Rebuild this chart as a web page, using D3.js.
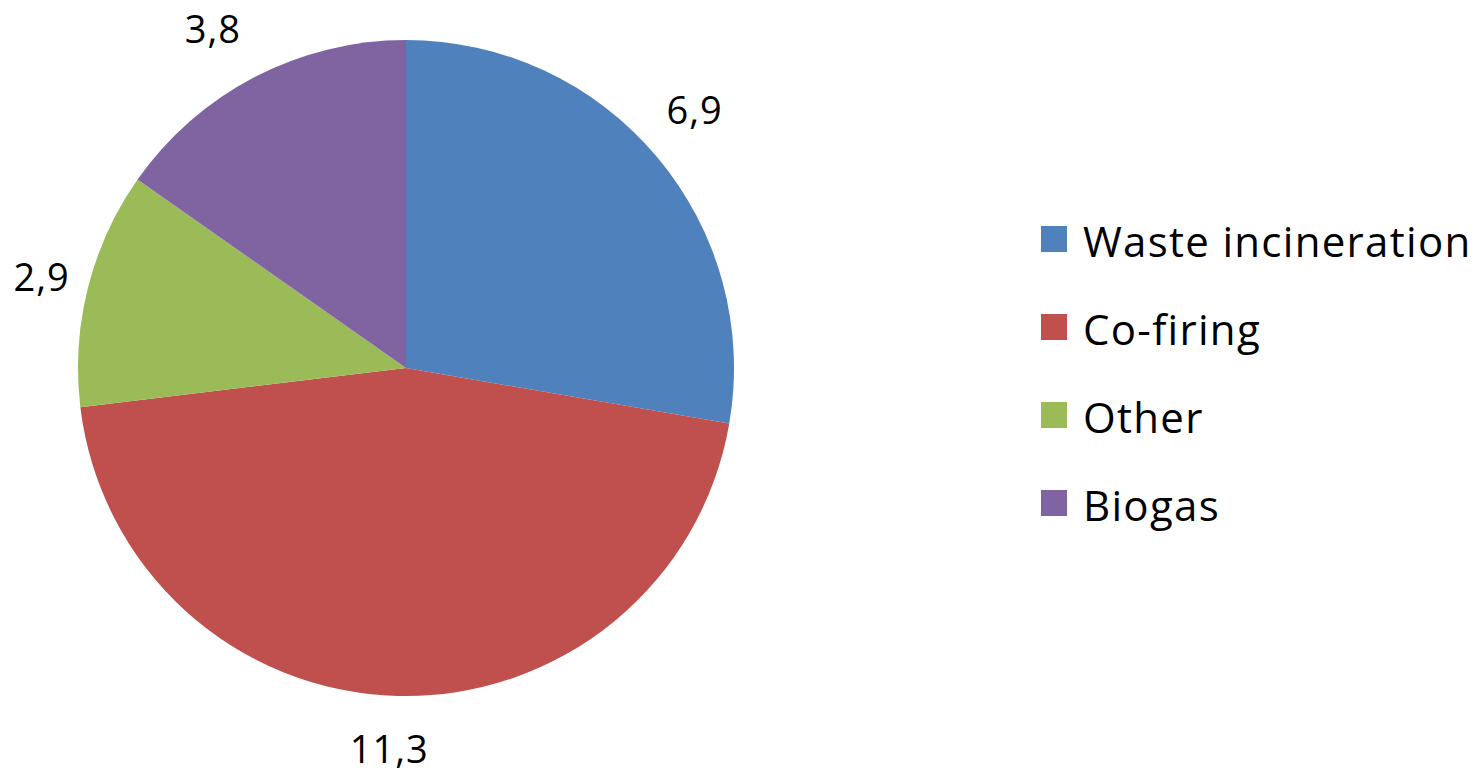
<!DOCTYPE html>
<html><head><meta charset="utf-8">
<script src="https://cdn.jsdelivr.net/npm/d3@7"></script>
<style>body{margin:0;background:#fff;} svg{display:block;}</style>
</head><body>
<svg id="chart" width="1478" height="774"></svg>
<script>
const categories = ["Waste incineration", "Co-firing", "Other", "Biogas"];
const values = [6.9, 11.3, 2.9, 3.8];
const labels = ["6,9", "11,3", "2,9", "3,8"];
const colors = ["#4F81BD", "#C0504D", "#9BBB59", "#8064A2"];

const svg = d3.select("#chart");
const cx = 406, cy = 368, r = 328, labelR = 384;
// small label nudges (layout only), emulating the outside-end label placement
const labelNudge = [[-5, -10], [-7, -3], [8, 3], [-16, 2]];
const data = categories.map((c, i) => ({cat: c, value: values[i], label: labels[i], color: colors[i], i}));
const pie = d3.pie().value(d => d.value).sort(null);
const arcs = pie(data);
const arc = d3.arc().innerRadius(0).outerRadius(r);
const labelArc = d3.arc().innerRadius(labelR).outerRadius(labelR);
const g = svg.append("g").attr("transform", `translate(${cx},${cy})`);
g.selectAll("path").data(arcs).join("path")
  .attr("d", arc).attr("fill", d => d.data.color);
g.selectAll("text").data(arcs).join("text")
  .attr("transform", d => {
    const [x, y] = labelArc.centroid(d);
    const n = labelNudge[d.data.i];
    return `translate(${x + n[0]},${y + n[1]})`;
  })
  .attr("text-anchor", "middle").attr("dy", "0.36em")
  .attr("font-family", "Open Sans, sans-serif").attr("font-size", 38)
  .attr("letter-spacing", 1)
  .attr("fill", "#000").text(d => d.data.label);

const legend = svg.append("g");
const lrow = legend.selectAll("g").data(data).join("g")
  .attr("transform", (d, i) => `translate(1041, ${226 + i * 88})`);
lrow.append("rect").attr("width", 26).attr("height", 26).attr("fill", d => d.color);
lrow.append("text").attr("x", 42).attr("y", 31)
  .attr("font-family", "Open Sans, sans-serif").attr("font-size", 42)
  .attr("letter-spacing", 1.3)
  .attr("fill", "#000").text(d => d.cat);
</script>
</body></html>
